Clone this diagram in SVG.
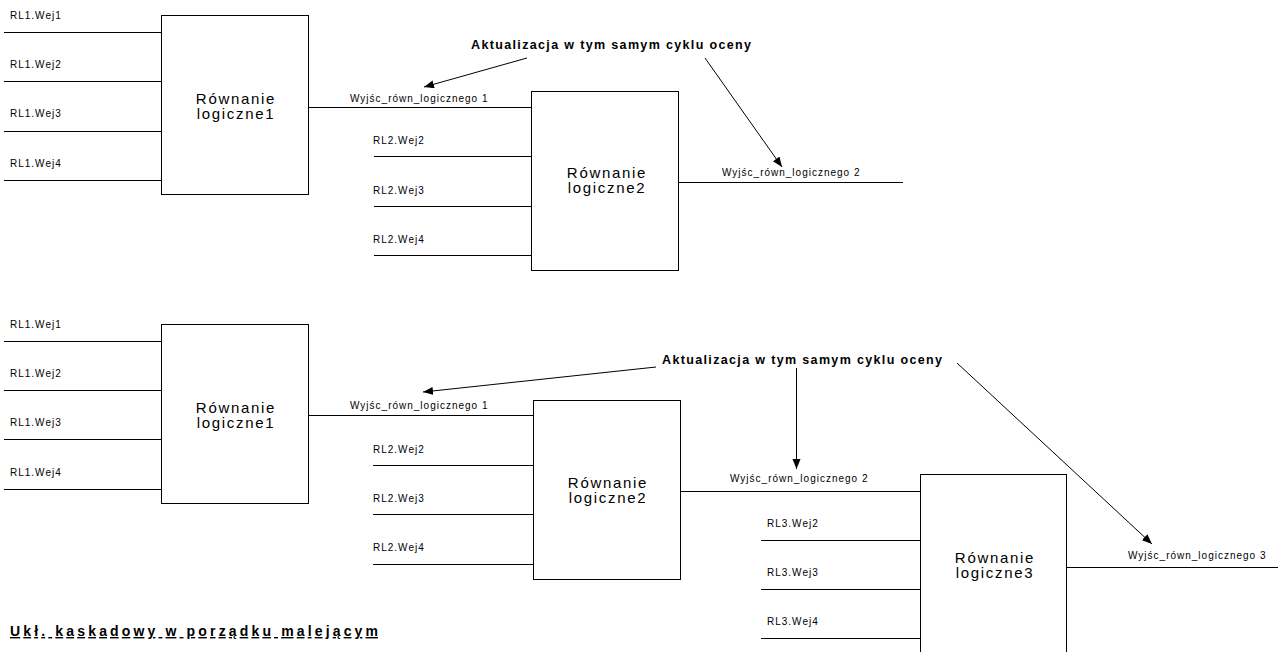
<svg xmlns="http://www.w3.org/2000/svg" width="1278" height="652" viewBox="0 0 1278 652">
<defs>
<marker id="ah" markerUnits="userSpaceOnUse" markerWidth="11" markerHeight="9" refX="10" refY="4" orient="auto">
<path d="M0,0 L10,4 L0,8 z" fill="#000"/>
</marker>
<style>
.box{fill:#fff;stroke:#000;stroke-width:1}
.bt{font-family:"Liberation Sans",Arial,sans-serif;font-size:15px;letter-spacing:1.7px;text-anchor:middle;fill:#000}
.lb{font-family:"Liberation Sans",Arial,sans-serif;font-size:10px;letter-spacing:1px;fill:#000}
.ann{font-family:"Liberation Sans",Arial,sans-serif;font-size:12.5px;font-weight:bold;fill:#000}
.ft{font-family:"Liberation Sans",Arial,sans-serif;font-size:14px;font-weight:bold;fill:#000;text-decoration:underline}
.w{stroke:#000;stroke-width:1;fill:none}
.ar{stroke:#000;stroke-width:1;fill:none;marker-end:url(#ah)}
</style>
</defs>
<rect width="1278" height="652" fill="#fff"/>

<g id="connectors">
<line class="w" x1="4" y1="32.5" x2="161" y2="32.5"/>
<line class="w" x1="4" y1="81.5" x2="161" y2="81.5"/>
<line class="w" x1="4" y1="131.5" x2="161" y2="131.5"/>
<line class="w" x1="4" y1="180.5" x2="161" y2="180.5"/>
<line class="w" x1="308" y1="107.5" x2="531" y2="107.5"/>
<line class="w" x1="374" y1="156.5" x2="531" y2="156.5"/>
<line class="w" x1="374" y1="206.5" x2="531" y2="206.5"/>
<line class="w" x1="374" y1="255.5" x2="531" y2="255.5"/>
<line class="w" x1="678" y1="182.5" x2="903" y2="182.5"/>
<line class="ar" x1="527" y1="58" x2="424" y2="87"/>
<line class="ar" x1="705" y1="58" x2="782" y2="167"/>
<line class="w" x1="4" y1="341.5" x2="161" y2="341.5"/>
<line class="w" x1="4" y1="390.5" x2="161" y2="390.5"/>
<line class="w" x1="4" y1="439.5" x2="161" y2="439.5"/>
<line class="w" x1="4" y1="489.5" x2="161" y2="489.5"/>
<line class="w" x1="308" y1="415.5" x2="533" y2="415.5"/>
<line class="w" x1="373" y1="465.5" x2="533" y2="465.5"/>
<line class="w" x1="373" y1="514.5" x2="533" y2="514.5"/>
<line class="w" x1="373" y1="564.5" x2="533" y2="564.5"/>
<line class="w" x1="680" y1="491.5" x2="920" y2="491.5"/>
<line class="w" x1="761" y1="540.5" x2="920" y2="540.5"/>
<line class="w" x1="761" y1="589.5" x2="920" y2="589.5"/>
<line class="w" x1="761" y1="638.5" x2="920" y2="638.5"/>
<line class="w" x1="1066" y1="567.5" x2="1278" y2="567.5"/>
<line class="ar" x1="656" y1="367" x2="423" y2="392"/>
<line class="ar" x1="796.5" y1="368" x2="796.5" y2="469"/>
<line class="ar" x1="957" y1="363" x2="1152" y2="544"/>
</g>

<g id="node-top-rl1">
<rect class="box" x="161.5" y="15.5" width="147" height="179"/>
<text class="bt" x="236" y="103.5">Równanie</text>
<text class="bt" x="236" y="118.5">logiczne1</text>
</g>
<g id="node-top-rl2">
<rect class="box" x="531.5" y="91.5" width="147" height="179"/>
<text class="bt" x="607" y="177.5">Równanie</text>
<text class="bt" x="607" y="192.5">logiczne2</text>
</g>
<g id="node-bot-rl1">
<rect class="box" x="161.5" y="324.5" width="147" height="179"/>
<text class="bt" x="236" y="412.5">Równanie</text>
<text class="bt" x="236" y="427.5">logiczne1</text>
</g>
<g id="node-bot-rl2">
<rect class="box" x="533.5" y="400.5" width="147" height="179"/>
<text class="bt" x="608" y="487.5">Równanie</text>
<text class="bt" x="608" y="502.5">logiczne2</text>
</g>
<g id="node-bot-rl3">
<rect class="box" x="920.5" y="474.5" width="146" height="190"/>
<text class="bt" x="995" y="562.5">Równanie</text>
<text class="bt" x="995" y="577.5">logiczne3</text>
</g>

<g id="labels">
<text class="lb" x="10" y="19">RL1.Wej1</text>
<text class="lb" x="10" y="68">RL1.Wej2</text>
<text class="lb" x="10" y="117">RL1.Wej3</text>
<text class="lb" x="10" y="166.5">RL1.Wej4</text>
<text class="lb" x="350" y="101.5">Wyjśc_równ_logicznego 1</text>
<text class="lb" x="373" y="143.5">RL2.Wej2</text>
<text class="lb" x="373" y="193.5">RL2.Wej3</text>
<text class="lb" x="373" y="243">RL2.Wej4</text>
<text class="lb" x="722" y="176">Wyjśc_równ_logicznego 2</text>
<text class="ann" x="471" y="48.5" textLength="280" lengthAdjust="spacing">Aktualizacja w tym samym cyklu oceny</text>

<text class="lb" x="10" y="328">RL1.Wej1</text>
<text class="lb" x="10" y="377">RL1.Wej2</text>
<text class="lb" x="10" y="426">RL1.Wej3</text>
<text class="lb" x="10" y="475.5">RL1.Wej4</text>
<text class="lb" x="350" y="409">Wyjśc_równ_logicznego 1</text>
<text class="lb" x="373" y="453">RL2.Wej2</text>
<text class="lb" x="373" y="502">RL2.Wej3</text>
<text class="lb" x="373" y="551">RL2.Wej4</text>
<text class="lb" x="730" y="482">Wyjśc_równ_logicznego 2</text>
<text class="lb" x="767" y="527">RL3.Wej2</text>
<text class="lb" x="767" y="576">RL3.Wej3</text>
<text class="lb" x="767" y="624.5">RL3.Wej4</text>
<text class="lb" x="1128" y="559">Wyjśc_równ_logicznego 3</text>
<text class="ann" x="662" y="363.5" textLength="280" lengthAdjust="spacing">Aktualizacja w tym samym cyklu oceny</text>

<text class="ft" x="10" y="636" textLength="368" lengthAdjust="spacing">Ukł. kaskadowy w porządku malejącym</text>
</g>
</svg>
